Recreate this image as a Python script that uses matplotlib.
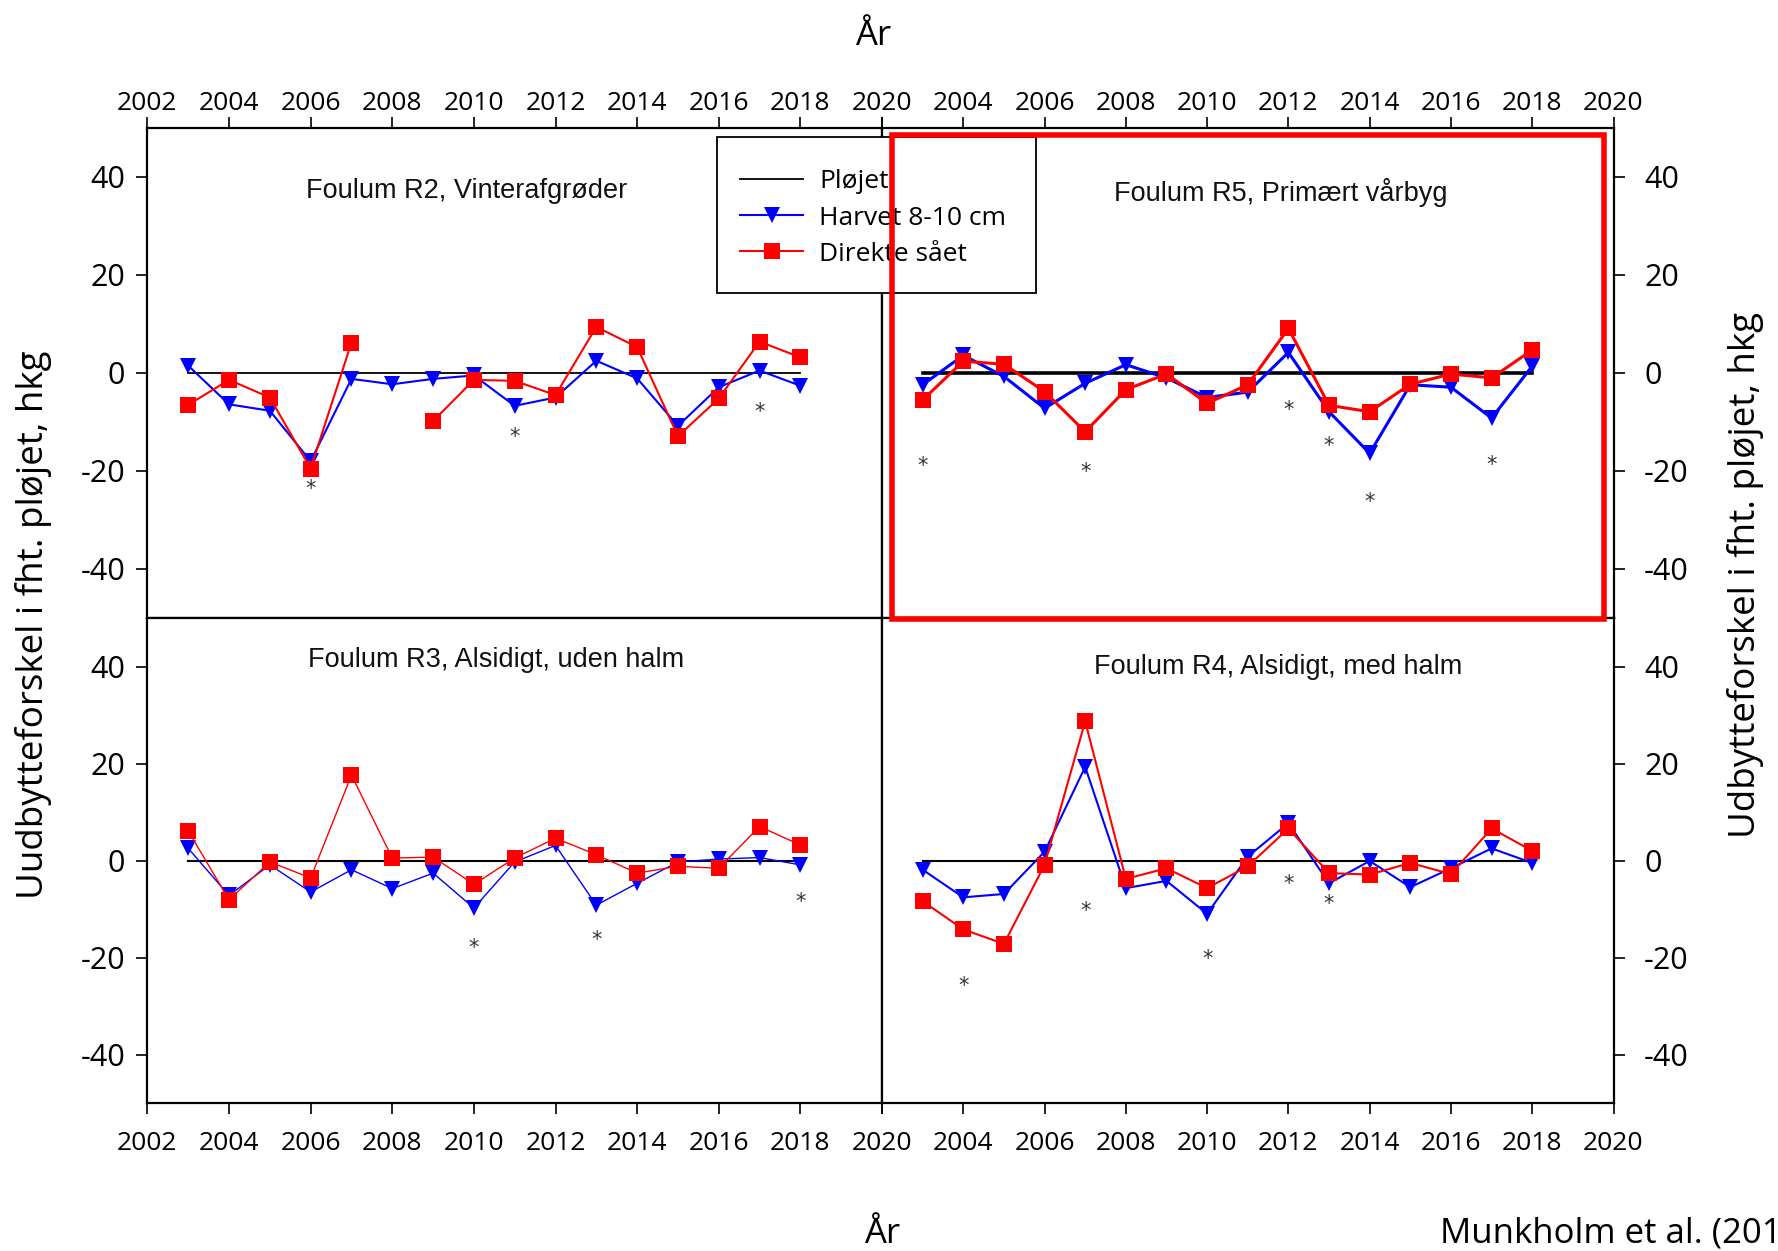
import matplotlib
matplotlib.use("Agg")
import matplotlib.pyplot as plt
from matplotlib.patches import Rectangle
import numpy as np

plt.rcParams['axes.unicode_minus'] = False

years = list(range(2003, 2019))

# Foulum R2, Vinterafgrøder
r2_harvet = [1.5, -6.4, -7.7, -18.0, -1.2, -2.3, -1.2, -0.5, -6.7, -5.0, 2.5, -1.1, -10.8, -2.9, 0.5, -2.6]
r2_direkte = [-6.5, -1.4, -5.0, -19.5, 6.2, np.nan, -9.8, -1.4, -1.6, -4.5, 9.4, 5.3, -12.9, -5.2, 6.4, 3.2]
r2_star_years = [2006, 2011, 2017]
r2_star_vals = [-23.7, -13.0, -8.0]

# Foulum R5, Primært vårbyg
r5_harvet = [-2.4, 3.6, -0.7, -7.2, -2.1, 1.7, -1.0, -5.0, -3.9, 4.2, -7.9, -16.4, -2.4, -2.9, -9.2, 1.4]
r5_direkte = [-5.5, 2.4, 1.8, -3.8, -12.0, -3.4, -0.2, -6.2, -2.4, 9.1, -6.6, -7.9, -2.3, -0.2, -1.0, 4.7]
r5_star_years = [2003, 2007, 2012, 2013, 2014, 2017]
r5_star_vals = [-19.0, -20.2, -7.5, -14.9, -26.4, -18.7]

# Foulum R3, Alsidigt, uden halm
r3_harvet = [2.5, -7.2, -0.9, -6.5, -1.9, -5.8, -2.6, -9.8, -0.3, 3.1, -9.2, -4.7, -0.3, 0.3, 0.6, -0.9]
r3_direkte = [6.1, -8.1, -0.3, -3.6, 17.6, 0.5, 0.7, -4.9, 0.5, 4.6, 1.2, -2.6, -1.2, -1.6, 7.0, 3.2]
r3_star_years = [2010, 2013, 2018]
r3_star_vals = [-18.0, -16.3, -8.6]

# Foulum R4, Alsidigt, med halm
r4_harvet = [-1.9, -7.6, -6.9, 1.8, 19.3, -5.7, -4.2, -11.0, 0.8, 7.7, -4.7, -0.1, -5.5, -1.6, 2.5, -0.5]
r4_direkte = [-8.4, -14.2, -17.2, -0.9, 28.7, -3.8, -1.6, -5.7, -1.2, 6.6, -2.6, -2.9, -0.5, -2.8, 6.6, 2.0]
r4_star_years = [2004, 2007, 2010, 2012, 2013]
r4_star_vals = [-25.8, -10.5, -20.4, -4.9, -9.0]

titles = ["Foulum R2, Vinterafgrøder", "Foulum R5, Primært vårbyg",
          "Foulum R3, Alsidigt, uden halm", "Foulum R4, Alsidigt, med halm"]
legend_labels = ["Pløjet", "Harvet 8-10 cm", "Direkte sået"]
yticks = [-40, -20, 0, 20, 40]
xticks_left = list(range(2002, 2021, 2))

W, H = 1778, 1251
fig = plt.figure(figsize=(W / 100, H / 100), dpi=100)

def fx(px):
    return px / W

def fy(py):
    return 1 - py / H

xl, xm, xr = 147.4, 882.0, 1613.5
yt, ym, yb = 128.0, 618.0, 1103.0

panels = [
    dict(rect=[fx(xl), fy(ym), fx(xm - xl), (ym - yt) / H], h=r2_harvet, d=r2_direkte,
         sy=r2_star_years, sv=r2_star_vals, title=titles[0], tpos=(2009.83, 37.2), lw=1.5, zlw=1.3,
         top=True, left=True),
    dict(rect=[fx(xm), fy(ym), fx(xr - xm), (ym - yt) / H], h=r5_harvet, d=r5_direkte,
         sy=r5_star_years, sv=r5_star_vals, title=titles[1], tpos=(2011.82, 36.8), lw=2.2, zlw=2.6,
         top=True, left=False),
    dict(rect=[fx(xl), fy(yb), fx(xm - xl), (yb - ym) / H], h=r3_harvet, d=r3_direkte,
         sy=r3_star_years, sv=r3_star_vals, title=titles[2], tpos=(2010.54, 41.3), lw=1.0, zlw=1.5,
         top=False, left=True),
    dict(rect=[fx(xm), fy(yb), fx(xr - xm), (yb - ym) / H], h=r4_harvet, d=r4_direkte,
         sy=r4_star_years, sv=r4_star_vals, title=titles[3], tpos=(2011.75, 39.8), lw=1.5, zlw=1.5,
         top=False, left=False),
]

tick_font = "Open Sans"
handles = None
for p in panels:
    ax = fig.add_axes(p["rect"])
    ax.set_xlim(2002, 2020)
    ax.set_ylim(-50, 50)
    l0, = ax.plot([years[0], years[-1]], [0, 0], color="black", lw=p["zlw"], zorder=2)
    l1, = ax.plot(years, p["h"], color="#0000ff", lw=p["lw"], marker="v", markersize=11,
                  markeredgewidth=0, zorder=3)
    l2, = ax.plot(years, p["d"], color="#ff0000", lw=p["lw"], marker="s", markersize=11.5,
                  markeredgewidth=0, zorder=4)
    if handles is None:
        handles = [l0, l1, l2]
    for yr, v in zip(p["sy"], p["sv"]):
        ax.text(yr, v, "*", ha="center", va="center", fontsize=15, color="#333333",
                family="DejaVu Sans")
    ax.text(p["tpos"][0], p["tpos"][1], p["title"], ha="center", va="center",
            fontsize=19.5, family="Liberation Sans", color="#111111")
    for s in ax.spines.values():
        s.set_linewidth(1.6)
    # x ticks
    ax.set_xticks(xticks_left)
    if p["top"]:
        ax.xaxis.set_ticks_position("top")
        ax.xaxis.set_label_position("top")
        xpad = 1
    else:
        ax.xaxis.set_ticks_position("bottom")
        xpad = 12
    if p["left"]:
        ax.set_xticklabels([str(t) for t in xticks_left])
    else:
        ax.set_xticklabels([""] + [str(t) for t in xticks_left[1:]])
    ax.tick_params(axis="x", direction="out", length=8, width=1.2, labelsize=19, pad=xpad)
    for lab in ax.get_xticklabels():
        lab.set_family(tick_font)
    # y ticks
    ax.set_yticks(yticks)
    if p["left"]:
        ax.yaxis.set_ticks_position("left")
        ypad = 8
    else:
        ax.yaxis.set_ticks_position("right")
        ypad = 14
    ax.set_yticklabels([str(t) for t in yticks])
    ax.tick_params(axis="y", direction="out", length=8, width=1.2, labelsize=22, pad=ypad)
    for lab in ax.get_yticklabels():
        lab.set_family(tick_font)

# Legend (frame drawn separately for exact size)
leg = fig.legend(handles, legend_labels, loc="upper left",
                 bbox_to_anchor=(fx(740), fy(169.5)), frameon=False,
                 handlelength=2.4, borderpad=0, labelspacing=0.42, handletextpad=0.6,
                 borderaxespad=0, prop={"family": tick_font, "size": 19})
leg.set_zorder(10)
frame = Rectangle((fx(716.6), fy(292.6)), fx(1036.4 - 716.6), (292.6 - 137.2) / H,
                  transform=fig.transFigure, facecolor="white", edgecolor="black",
                  linewidth=1.3, zorder=9)
fig.patches.append(frame)

# Red highlight rectangle
rect = Rectangle((fx(892), fy(619)), fx(1604 - 892), (619 - 135) / H, transform=fig.transFigure,
                 fill=False, edgecolor="#ff0000", linewidth=4, zorder=20)
fig.patches.append(rect)

# Axis labels
fig.text(fx(873), fy(36), "År", ha="center", va="center", fontsize=25, family=tick_font)
fig.text(fx(882), fy(1234), "År", ha="center", va="center", fontsize=25, family=tick_font)
fig.text(fx(1440), fy(1234), "Munkholm et al. (2019)", ha="left", va="center", fontsize=25,
         family=tick_font)
fig.text(fx(34), fy(625), "Uudbytteforskel i fht. pløjet, hkg", ha="center", va="center",
         rotation=90, fontsize=26.5, family=tick_font)
fig.text(fx(1746), fy(575), "Udbytteforskel i fht. pløjet, hkg", ha="center", va="center",
         rotation=90, fontsize=26.5, family=tick_font)

fig.savefig("out.png", dpi=100)
